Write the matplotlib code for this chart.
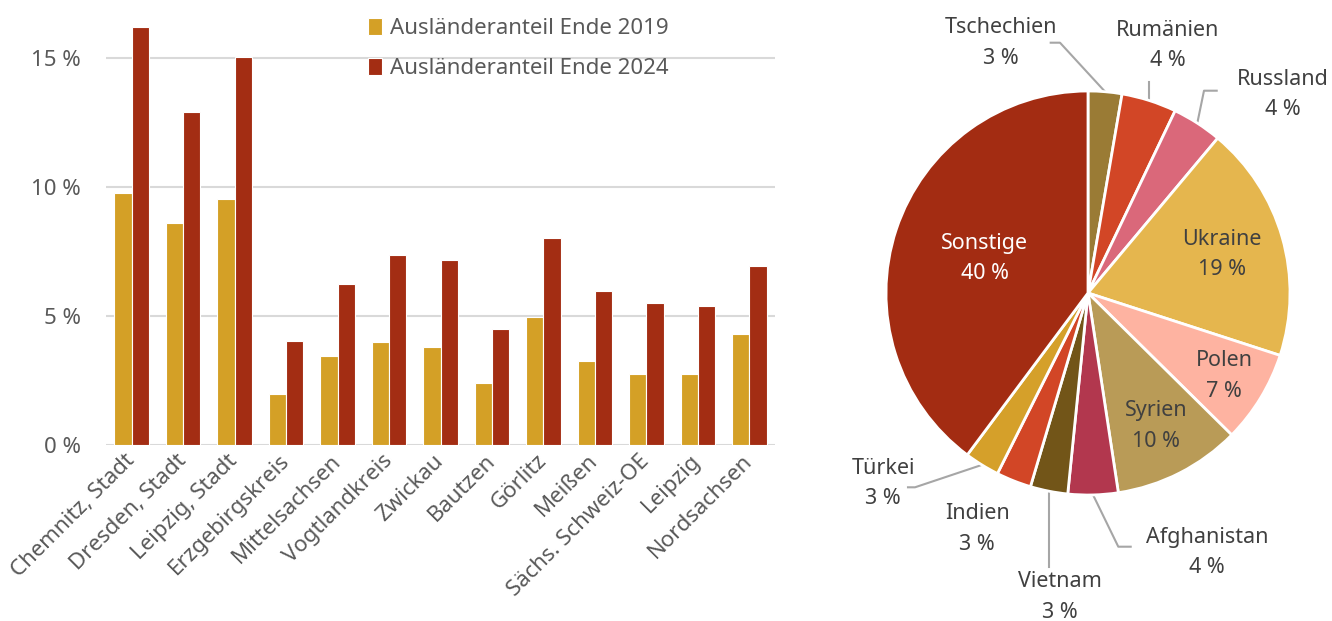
import matplotlib.pyplot as plt
import numpy as np

plt.rcParams['font.family'] = ['Noto Sans', 'DejaVu Sans']

# --- Daten: Ausländeranteil nach Kreisen ---
kreise = ['Chemnitz, Stadt', 'Dresden, Stadt', 'Leipzig, Stadt', 'Erzgebirgskreis',
          'Mittelsachsen', 'Vogtlandkreis', 'Zwickau', 'Bautzen', 'Görlitz', 'Meißen',
          'Sächs. Schweiz-OE', 'Leipzig', 'Nordsachsen']
anteil_2019 = [9.79, 8.63, 9.56, 1.98, 3.47, 4.00, 3.82, 2.41, 4.97, 3.26, 2.75, 2.78, 4.30]
anteil_2024 = [16.23, 12.90, 15.06, 4.04, 6.26, 7.38, 7.18, 4.51, 8.04, 5.97, 5.52, 5.40, 6.94]

# --- Daten: Herkunftsländer ---
laender = ['Tschechien', 'Rumänien', 'Russland', 'Ukraine', 'Polen', 'Syrien',
           'Afghanistan', 'Vietnam', 'Indien', 'Türkei', 'Sonstige']
laender_anteil = [2.7, 4.4, 4.0, 18.9, 7.4, 10.2, 4.0, 3.0, 2.8, 2.8, 39.8]
laender_farben = ['#9a7b35', '#d24626', '#da687a', '#e5b64e', '#feb3a1', '#b99b57',
                  '#b2374e', '#725518', '#d24626', '#d5a02a', '#a32c12']

FARBE_2019 = '#d4a026'
FARBE_2024 = '#a32d13'
GRAU = '#595959'
DUNKEL = '#404040'
FS = 16
FS_PIE = 15.5

W, H = 1332, 621
fig = plt.figure(figsize=(W / 100, H / 100), dpi=100)

# --- PANEL 1: Balken ---
ax = fig.add_axes([106 / W, (H - 445.3) / H, (775 - 106) / W, (445.3 - 6.7) / H])
x = np.arange(len(kreise))
b = 0.335
ax.bar(x - b / 2, anteil_2019, b, color=FARBE_2019, edgecolor='white', linewidth=0.8,
       label='Ausländeranteil Ende 2019', zorder=3)
ax.bar(x + b / 2, anteil_2024, b, color=FARBE_2024, edgecolor='white', linewidth=0.8,
       label='Ausländeranteil Ende 2024', zorder=3)
ax.set_xlim(-0.5, len(kreise) - 0.5)
ax.set_ylim(0, 17)
ax.set_yticks([0, 5, 10, 15])
ax.set_yticklabels([f'{v} %' for v in [0, 5, 10, 15]])
ax.yaxis.grid(True, color='#d9d9d9', linewidth=1.5, zorder=0)
ax.set_axisbelow(True)
for s in ax.spines.values():
    s.set_visible(False)
ax.tick_params(axis='y', length=0, pad=18, labelsize=FS, labelcolor=GRAU)
ax.tick_params(axis='x', length=0, pad=9, labelsize=FS, labelcolor=GRAU)
ax.set_xticks(x)
ax.set_xticklabels(kreise, rotation=45, ha='right', va='center', rotation_mode='anchor')
ax.legend(loc='upper left', bbox_to_anchor=(0.362, 1.02), frameon=False, fontsize=FS,
          handlelength=0.6, handleheight=0.8, labelspacing=0.85, handletextpad=0.4,
          labelcolor=GRAU)

# --- PANEL 2: Kreis ---
cx, cy, R = 1088, 293, 202
x0, x1 = 830, W
pax = fig.add_axes([x0 / W, 0, (x1 - x0) / W, 1])
pax.axis('off')
wedges, _ = pax.pie(laender_anteil, colors=laender_farben, startangle=90, counterclock=False,
                    wedgeprops=dict(edgecolor='white', linewidth=2))
pax.set_xlim((x0 - cx) / R, (x1 - cx) / R)
pax.set_ylim((cy - H) / R, cy / R)
pax.set_aspect('auto')

# Mittelwinkel jedes Segments (im Uhrzeigersinn ab 12 Uhr)
kum = np.cumsum(laender_anteil)
mitte = (kum - np.array(laender_anteil) / 2) / sum(laender_anteil) * 2 * np.pi


def punkt(i, r):
    return r * np.sin(mitte[i]), r * np.cos(mitte[i])


def px(xp, yp):
    return (xp - cx) / R, (cy - yp) / R


# Beschriftungen innen: Radius und Farbe
innen = {'Ukraine': (0.69, DUNKEL), 'Polen': (0.79, DUNKEL),
         'Syrien': (0.74, DUNKEL), 'Sonstige': (0.54, 'white')}
for name, (r, col) in innen.items():
    i = laender.index(name)
    tx, ty = punkt(i, r)
    pax.text(tx, ty, f'{name}\n{laender_anteil[i]:.0f} %', ha='center', va='center',
             fontsize=FS_PIE, color=col, linespacing=1.6)

# Beschriftungen außen: Textposition (Pixel) und Knickpunkte (Pixel)
aussen = {
    'Tschechien': ((1001, 43), [(1060, 42.7), (1050.7, 42.7)]),
    'Rumänien': ((1168, 45.5), [(None, 81.7)]),
    'Russland': ((1283, 94.5), [(1204, 90.7), (1216.7, 90.7)]),
    'Türkei': ((883, 483.5), [(915, 487.3), (908, 487.3)]),
    'Indien': ((977, 529), []),
    'Vietnam': ((1060, 597), [(None, 566.7)]),
    'Afghanistan': ((1207, 552.5), [(1118.3, 546.7), (1130.7, 546.7)]),
}
for name, (tpos, knicke) in aussen.items():
    i = laender.index(name)
    tx, ty = px(*tpos)
    pax.text(tx, ty, f'{name}\n{laender_anteil[i]:.0f} %', ha='center', va='center',
             fontsize=FS_PIE, color=DUNKEL, linespacing=1.6, clip_on=False)
    if knicke:
        ax0, ay0 = punkt(i, 1.0)
        xs, ys = [ax0], [ay0]
        for kx, ky in knicke:
            xs.append(ax0 if kx is None else (kx - cx) / R)
            ys.append((cy - ky) / R)
        pax.plot(xs, ys, color='#a6a6a6', linewidth=1.5, clip_on=False, zorder=0)

fig.savefig('out.png', dpi=100)
